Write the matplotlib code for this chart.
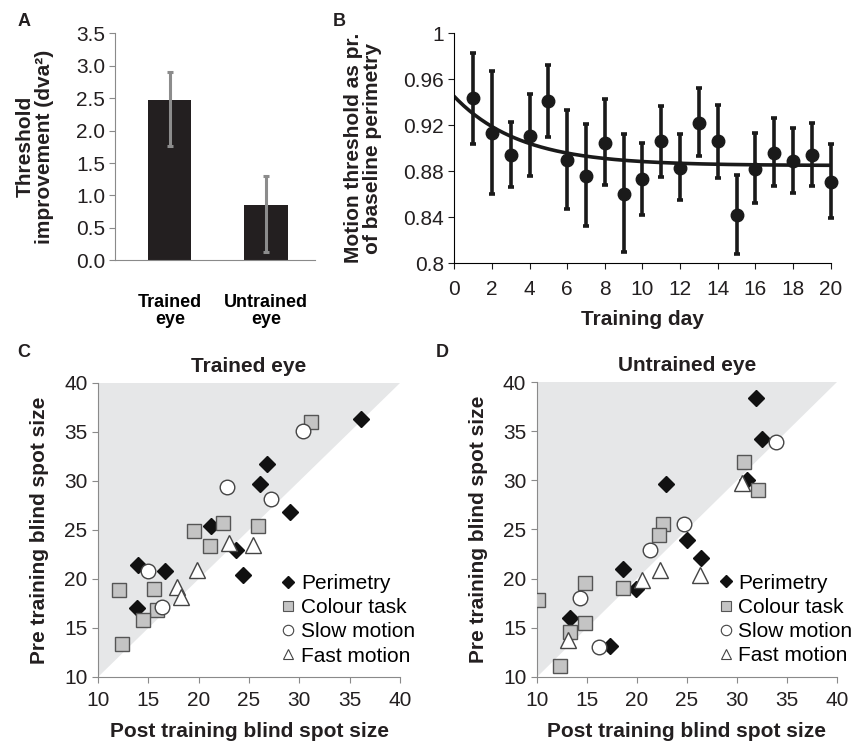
import numpy as np
import matplotlib
matplotlib.use("Agg")
import matplotlib.pyplot as plt
from matplotlib.ticker import FuncFormatter

plt.rcParams['font.family'] = ['Liberation Sans', 'DejaVu Sans']

# ---------------- Data ----------------
# Panel A
a_categories = ["Trained\neye", "Untrained\neye"]
a_values = [2.47, 0.86]
a_err_low = [0.71, 0.73]
a_err_high = [0.43, 0.44]

# Panel B
b_days = list(range(1, 21))
b_means = [0.944, 0.913, 0.894, 0.911, 0.941, 0.890, 0.876, 0.905, 0.860, 0.873,
           0.906, 0.883, 0.922, 0.906, 0.842, 0.882, 0.896, 0.889, 0.894, 0.871]
b_upper = [0.983, 0.967, 0.923, 0.947, 0.972, 0.933, 0.921, 0.943, 0.912, 0.905,
           0.937, 0.912, 0.952, 0.938, 0.877, 0.913, 0.926, 0.918, 0.922, 0.904]
b_lower = [0.904, 0.860, 0.866, 0.876, 0.910, 0.847, 0.832, 0.868, 0.810, 0.842,
           0.875, 0.855, 0.893, 0.874, 0.808, 0.852, 0.867, 0.861, 0.867, 0.839]
# exponential fit: y = fit_asym + fit_amp * exp(-day / fit_tau)
fit_asym = 0.885
fit_amp = 0.060
fit_tau = 3.5

# Panel C (trained eye): post (x), pre (y)
c_perim_post = [36.1, 26.8, 26.1, 29.1, 21.2, 23.7, 24.4, 14.0, 16.7, 13.9]
c_perim_pre = [36.3, 31.7, 29.7, 26.8, 25.4, 23.0, 20.4, 21.4, 20.8, 17.0]
c_colour_post = [31.2, 22.4, 19.5, 21.1, 25.9, 12.1, 15.6, 15.9, 14.5, 12.4]
c_colour_pre = [36.0, 25.7, 24.9, 23.4, 25.4, 18.9, 19.0, 16.8, 15.8, 13.4]
c_slow_post = [30.4, 22.8, 27.2, 15.0, 16.4]
c_slow_pre = [35.1, 29.4, 28.2, 20.8, 17.1]
c_fast_post = [23.0, 25.4, 19.8, 17.8, 18.2]
c_fast_pre = [23.7, 23.5, 20.9, 19.2, 18.2]

# Panel D (untrained eye)
d_perim_post = [31.9, 32.5, 31.0, 22.9, 25.0, 26.4, 18.6, 19.9, 13.3, 17.3]
d_perim_pre = [38.4, 34.2, 30.0, 29.6, 23.9, 22.1, 21.0, 18.9, 16.0, 13.1]
d_colour_post = [30.7, 32.1, 22.6, 22.2, 18.6, 14.8, 10.1, 14.8, 13.3, 12.3]
d_colour_pre = [31.9, 29.0, 25.6, 24.4, 19.0, 19.5, 17.8, 15.5, 14.6, 11.1]
d_slow_post = [33.9, 24.7, 21.3, 14.3, 16.2]
d_slow_pre = [33.9, 25.6, 22.9, 18.0, 13.0]
d_fast_post = [30.5, 22.3, 20.5, 26.3, 13.1]
d_fast_pre = [29.7, 20.9, 19.9, 20.4, 13.7]

scatter_ticks = [10, 15, 20, 25, 30, 35, 40]

# ---------------- Figure ----------------
fig = plt.figure(figsize=(8.56, 7.41), dpi=100)
TXT = '#231f20'
GRAY = '#8a8a8a'
FS = 15

# ---- Panel A ----
axA = fig.add_axes([0.1343, 0.6487, 0.2336, 0.3063])
x = np.arange(len(a_categories))
axA.bar(x, a_values, width=0.45, color='#231f20', zorder=2)
axA.errorbar(x, a_values, yerr=[a_err_low, a_err_high], fmt='none',
             ecolor='#8c8c8c', elinewidth=2.2, capsize=2.5, capthick=2.2, zorder=3)
axA.set_xlim(-0.57, 1.51)
axA.set_ylim(0, 3.5)
axA.set_yticks(np.arange(0, 3.51, 0.5))
axA.yaxis.set_major_formatter(FuncFormatter(lambda v, p: f"{v:.1f}"))
axA.set_xticks(x)
axA.set_xticklabels(a_categories, fontweight='bold', fontsize=13, linespacing=1.0)
axA.tick_params(axis='x', length=0, pad=24)
axA.tick_params(axis='y', length=4, color=GRAY, labelsize=FS, labelcolor=TXT, pad=3)
for s in ['top', 'right']:
    axA.spines[s].set_visible(False)
for s in ['left', 'bottom']:
    axA.spines[s].set_color(GRAY)
axA.set_ylabel("Threshold\nimprovement (dva²)", fontweight='bold', fontsize=FS,
               color=TXT, linespacing=1.0, labelpad=16)

# ---- Panel B ----
axB = fig.add_axes([0.5307, 0.6447, 0.4397, 0.3104])
b_err_low = np.array(b_means) - np.array(b_lower)
b_err_high = np.array(b_upper) - np.array(b_means)
axB.errorbar(b_days, b_means, yerr=[b_err_low, b_err_high], fmt='o', color='#1a1a1a',
             markersize=9, elinewidth=2.6, capsize=2.5, capthick=2.6, zorder=3, clip_on=False)
xf = np.linspace(0, 20, 200)
axB.plot(xf, fit_asym + fit_amp * np.exp(-xf / fit_tau), color='#1a1a1a', lw=2.6, zorder=2)
axB.set_xlim(0, 20)
axB.set_ylim(0.8, 1.0)
axB.set_xticks(range(0, 21, 2))
axB.set_yticks([0.8, 0.84, 0.88, 0.92, 0.96, 1.0])
axB.yaxis.set_major_formatter(FuncFormatter(lambda v, p: f"{v:g}"))
axB.tick_params(length=4, color='#1a1a1a', labelsize=FS, labelcolor=TXT)
axB.tick_params(axis='x', pad=8)
for s in ['top', 'right']:
    axB.spines[s].set_visible(False)
axB.set_xlabel("Training day", fontweight='bold', fontsize=FS, color=TXT, labelpad=8)
axB.set_ylabel("Motion threshold as pr.\nof baseline perimetry", fontweight='bold',
               fontsize=FS, color=TXT, linespacing=1.0, labelpad=15)


def scatter_panel(ax, title, pp, pr, cp, cr, sp, sr, fp, fr):
    ax.fill([10, 10, 40], [10, 40, 40], color='#e6e7e8', lw=0, zorder=0)
    ax.plot(pp, pr, 'D', color='#111111', ms=8, mec='#111111', zorder=3)
    ax.plot(cp, cr, 's', color='#c4c4c4', ms=10.5, mec='#555555', mew=1.0, zorder=3)
    ax.plot(sp, sr, 'o', color='white', ms=10.5, mec='#444444', mew=1.0, zorder=3)
    ax.plot(fp, fr, '^', color='white', ms=11, mec='#444444', mew=1.0, zorder=3)
    ax.set_xlim(10, 40)
    ax.set_ylim(10, 40)
    ax.set_xticks(scatter_ticks)
    ax.set_yticks(scatter_ticks)
    ax.tick_params(length=4, color=GRAY, labelsize=FS, labelcolor=TXT)
    ax.tick_params(axis='x', pad=6)
    for s in ['top', 'right']:
        ax.spines[s].set_visible(False)
    for s in ['left', 'bottom']:
        ax.spines[s].set_color(GRAY)
    ax.set_title(title, fontweight='bold', fontsize=FS, color=TXT, pad=8)
    ax.set_xlabel("Post training blind spot size", fontweight='bold', fontsize=FS,
                  color=TXT, labelpad=9)
    ax.set_ylabel("Pre training blind spot size", fontweight='bold', fontsize=FS,
                  color=TXT, labelpad=11)
    h = [
        plt.Line2D([], [], ls='none', marker='D', color='#111111', ms=6),
        plt.Line2D([], [], ls='none', marker='s', color='#c4c4c4', mec='#555555', mew=0.8, ms=7.5),
        plt.Line2D([], [], ls='none', marker='o', color='white', mec='#444444', mew=0.8, ms=7.5),
        plt.Line2D([], [], ls='none', marker='^', color='white', mec='#444444', mew=0.8, ms=7.5),
    ]
    ax.legend(h, ["Perimetry", "Colour task", "Slow motion", "Fast motion"],
              loc='upper left', bbox_to_anchor=(0.61, 0.35), frameon=False,
              fontsize=FS, handlelength=0.6, handletextpad=0.3, labelspacing=0.25,
              borderaxespad=0, borderpad=0)


axC = fig.add_axes([0.1145, 0.0864, 0.3528, 0.3968])
scatter_panel(axC, "Trained eye", c_perim_post, c_perim_pre, c_colour_post, c_colour_pre,
              c_slow_post, c_slow_pre, c_fast_post, c_fast_pre)
axD = fig.add_axes([0.627, 0.0868, 0.3505, 0.3973])
scatter_panel(axD, "Untrained eye", d_perim_post, d_perim_pre, d_colour_post, d_colour_pre,
              d_slow_post, d_slow_pre, d_fast_post, d_fast_pre)

# Panel letters
for lab, px, py in [("A", 18, 22), ("B", 333, 22), ("C", 17, 352), ("D", 436, 352)]:
    fig.text(px / 856, 1 - py / 741, lab, fontweight='bold', fontsize=13, color=TXT,
             ha='left', va='center')

fig.savefig("out.png", dpi=100)
